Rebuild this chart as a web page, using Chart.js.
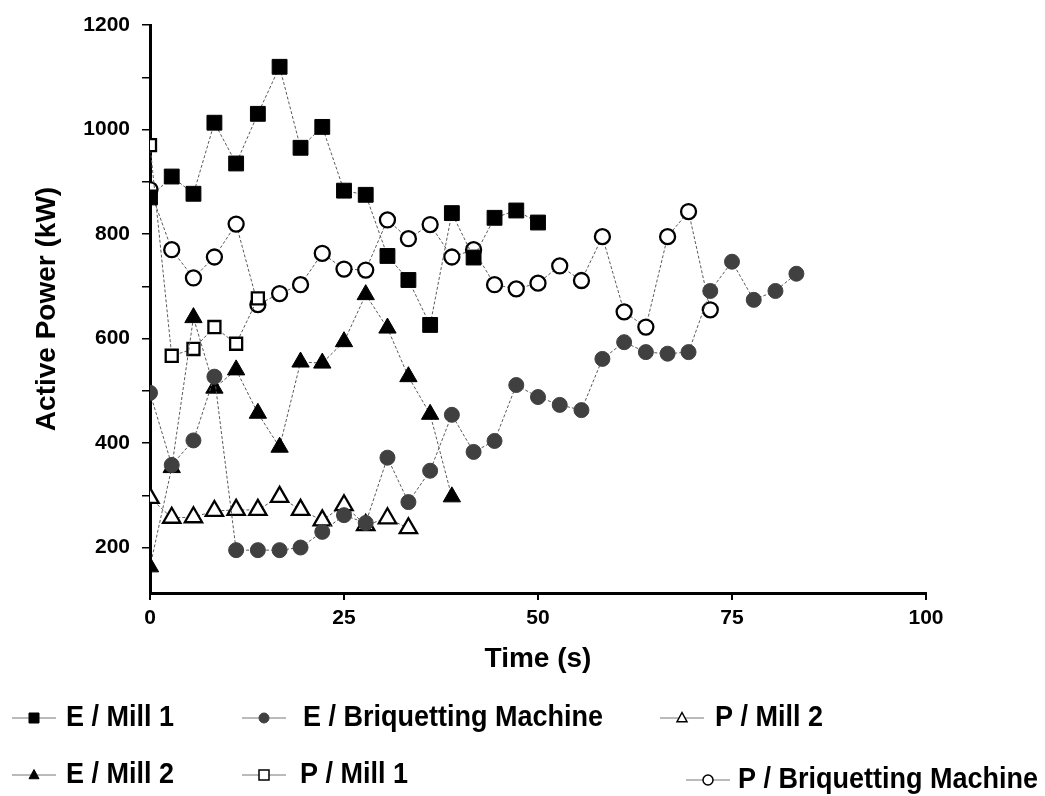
<!DOCTYPE html>
<html>
<head>
<meta charset="utf-8">
<script src="https://cdn.jsdelivr.net/npm/chart.js@4.4.1/dist/chart.umd.min.js"></script>
<style>
html, body { margin: 0; padding: 0; background: #fff; }
</style>
</head>
<body>
<canvas id="powerChart" width="1045" height="796"></canvas>
<script>
// time stamps (s) of the samples
const timeS = [0, 2.8, 5.6, 8.3, 11.1, 13.9, 16.7, 19.4, 22.2, 25.0, 27.8, 30.6, 33.3, 36.1, 38.9, 41.7,
               44.4, 47.2, 50.0, 52.8, 55.6, 58.3, 61.1, 63.9, 66.7, 69.4, 72.2, 75.0, 77.8, 80.6, 83.3];

// active power (kW)
const eMill1 = [870, 910, 877, 1013, 935, 1030, 1120, 965, 1005, 883, 875, 758, 712, 626, 840, 755, 831, 845, 822];
const eBriq  = [496, 358, 405, 527, 195, 195, 195, 200, 230, 262, 247, 372, 287, 347, 454, 383, 404, 511, 488, 473,
                463, 561, 593, 574, 571, 574, 691, 747, 674, 691, 724];
const pMill2 = [295, 257, 258, 270, 272, 272, 297, 272, 252, 281, 243, 256, 237];
const eMill2 = [163, 353, 640, 505, 540, 457, 392, 555, 553, 594, 684, 620, 527, 455, 297];
const pMill1 = [970, 567, 580, 622, 590, 677];
const pBriq  = [885, 770, 716, 756, 819, 665, 686, 703, 763, 733, 731, 827, 791, 818, 756, 770, 703, 695, 706, 739,
                711, 795, 651, 622, 795, 843, 655];

const xTicks = [0, 25, 50, 75, 100];
const yTicks = [200, 300, 400, 500, 600, 700, 800, 900, 1000, 1100, 1200];

const FONT = '"Liberation Sans", Arial, sans-serif';

function pts(values) {
	return values.map((v, i) => ({ x: timeS[i], y: v }));
}

function series(label, values, style, fill, border, radius) {
	return {
		label: label,
		data: pts(values),
		borderColor: '#5a5a5a',
		borderWidth: 1,
		borderDash: [3, 2],
		pointStyle: style,
		pointRadius: radius,
		pointHoverRadius: radius,
		pointBackgroundColor: fill,
		pointBorderColor: border,
		pointBorderWidth: fill === '#fff' ? 2.3 : 1,
		tension: 0
	};
}

const datasets = [
	series('E / Mill 1', eMill1, 'rect', '#000', '#000', 10.5),
	series('E / Briquetting Machine', eBriq, 'circle', '#404040', '#404040', 7.5),
	series('P / Mill 2', pMill2, 'triangle', '#fff', '#000', 10),
	series('E / Mill 2', eMill2, 'triangle', '#000', '#000', 10),
	series('P / Mill 1', pMill1, 'rect', '#fff', '#000', 8.5),
	series('P / Briquetting Machine', pBriq, 'circle', '#fff', '#000', 7.5)
];

// legend laid out like the original figure (two rows, three columns)
const legendSlots = [
	{ ds: 0, x: 12, y: 718, tx: 66 },
	{ ds: 1, x: 242, y: 718, tx: 303 },
	{ ds: 2, x: 660, y: 718, tx: 715 },
	{ ds: 3, x: 12, y: 775, tx: 66 },
	{ ds: 4, x: 242, y: 775, tx: 300 },
	{ ds: 5, x: 686, y: 780, tx: 738 }
];

function marker(ctx, style, fill, border, cx, cy, r) {
	ctx.save();
	ctx.fillStyle = fill;
	ctx.strokeStyle = border;
	ctx.lineWidth = fill === '#fff' ? 1.5 : 1;
	ctx.beginPath();
	if (style === 'rect') {
		ctx.rect(cx - r, cy - r, 2 * r, 2 * r);
	} else if (style === 'circle') {
		ctx.arc(cx, cy, r, 0, Math.PI * 2);
	} else {
		ctx.moveTo(cx, cy - r * 1.1);
		ctx.lineTo(cx + r, cy + r * 0.75);
		ctx.lineTo(cx - r, cy + r * 0.75);
		ctx.closePath();
	}
	ctx.fill();
	ctx.stroke();
	ctx.restore();
}

const customLegend = {
	id: 'customLegend',
	afterDraw(chart) {
		const ctx = chart.ctx;
		ctx.save();
		legendSlots.forEach(s => {
			const d = chart.data.datasets[s.ds];
			ctx.strokeStyle = '#777';
			ctx.lineWidth = 1;
			ctx.beginPath();
			ctx.moveTo(s.x, s.y);
			ctx.lineTo(s.x + 44, s.y);
			ctx.stroke();
			marker(ctx, d.pointStyle, d.pointBackgroundColor, d.pointBorderColor, s.x + 22, s.y, 5);
			// slightly condensed bold text, as in the figure
			ctx.save();
			ctx.translate(s.tx, s.y);
			ctx.scale(0.9, 1);
			ctx.fillStyle = '#000';
			ctx.font = 'bold 30px ' + FONT;
			ctx.textAlign = 'left';
			ctx.textBaseline = 'middle';
			ctx.fillText(d.label, 0, 0);
			ctx.restore();
		});
		ctx.restore();
	}
};

const powerChart = new Chart(document.getElementById('powerChart'), {
	type: 'line',
	data: { datasets: datasets },
	options: {
		responsive: false,
		animation: false,
		layout: { padding: { left: 0, top: 25, right: 119, bottom: 118 } },
		plugins: {
			legend: { display: false },
			tooltip: { enabled: false }
		},
		scales: {
			x: {
				type: 'linear',
				min: 0,
				max: 100,
				afterBuildTicks: s => { s.ticks = xTicks.map(v => ({ value: v })); },
				afterFit: s => { s.height = 85; },
				border: { display: true, width: 3, color: '#000' },
				grid: { drawOnChartArea: false, drawTicks: true, tickLength: 7, color: '#000', lineWidth: 2 },
				ticks: { color: '#000', font: { family: FONT, size: 21, weight: 'bold' }, padding: 6, maxRotation: 0 },
				title: {
					display: true, text: 'Time (s)', color: '#000',
					font: { family: FONT, size: 28, weight: 'bold' }, padding: { top: 0, bottom: 2 }
				}
			},
			y: {
				min: 113,
				max: 1200,
				afterBuildTicks: s => { s.ticks = yTicks.map(v => ({ value: v })); },
				afterFit: s => { s.width = 150; },
				border: { display: true, width: 3, color: '#000' },
				grid: { drawOnChartArea: false, drawTicks: true, tickLength: 8, color: '#000', lineWidth: 1.5 },
				ticks: {
					color: '#000', font: { family: FONT, size: 21, weight: 'bold' }, padding: 12,
					callback: v => (v % 200 === 0 ? v : '')
				},
				title: {
					display: true, text: 'Active Power (kW)', color: '#000',
					font: { family: FONT, size: 28, weight: 'bold' }, padding: { top: 30, bottom: 0 }
				}
			}
		}
	},
	plugins: [customLegend]
});
</script>
</body>
</html>
